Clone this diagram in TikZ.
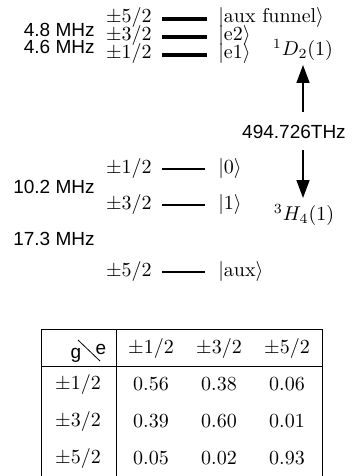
\documentclass[tikz,border=0pt]{standalone}
\usepackage{amsmath}
\usepackage{fontspec}
\newfontfamily\hv{Liberation Sans}
\usetikzlibrary{arrows.meta}
\begin{document}
\begin{tikzpicture}[x=0.5pt,y=-0.5pt,
  lvl/.style={line width=1.6pt},
  lvlb/.style={line width=1.3pt},
  mz/.style={font=\hv\fontsize{9.5}{11}\selectfont, inner sep=0pt, anchor=east},
  spin/.style={inner sep=0pt, anchor=base east},
  ket/.style={inner sep=0pt, anchor=base west},
  tarr/.style={line width=0.8pt, -{Triangle[length=9pt,width=6.5pt]}},
  tline/.style={line width=0.5pt},
  cell/.style={inner sep=0pt}]
\useasboundingbox (0,0) rectangle (356,476);
% excited state levels
\coordinate (e5a) at (162,19);   \coordinate (e5b) at (207,19);
\coordinate (e3a) at (162,37); \coordinate (e3b) at (207,37);
\coordinate (e1a) at (162,55);   \coordinate (e1b) at (207,55);
\draw[lvl] (e5a) -- (e5b);
\draw[lvl] (e3a) -- (e3b);
\draw[lvl] (e1a) -- (e1b);
\node[spin] (se5) at (152,23) {$\pm5/2$};
\node[spin] (se3) at (152,41) {$\pm3/2$};
\node[spin] (se1) at (152,59) {$\pm1/2$};
\node[ket] (ke5) at (218,23) {$|\text{aux funnel}\rangle$};
\node[ket] (ke3) at (218,41) {$|\mathrm{e2}\rangle$};
\node[ket] (ke1) at (218,59) {$|\mathrm{e1}\rangle$};
\node[mz] (m48) at (95,30) {4.8 MHz};
\node[mz] (m46) at (95,46.5) {4.6 MHz};
\node[cell] (D2) at (303,50) {${}^1D_2(1)$};
% transition
\node[font=\hv\fontsize{9.5}{11}\selectfont, inner sep=0pt] (thz) at (294,132) {494.726THz};
\coordinate (upa) at (303,112); \coordinate (upb) at (303,65);
\coordinate (dna) at (303,150); \coordinate (dnb) at (303,198);
\draw[tarr] (upa) -- (upb);
\draw[tarr] (dna) -- (dnb);
\node[cell] (H4) at (304,215) {${}^3H_4(1)$};
% ground state levels
\coordinate (g1a) at (162,169); \coordinate (g1b) at (205,169);
\coordinate (g3a) at (162,205); \coordinate (g3b) at (205,205);
\coordinate (g5a) at (162,272); \coordinate (g5b) at (205,272);
\draw[lvlb] (g1a) -- (g1b);
\draw[lvlb] (g3a) -- (g3b);
\draw[lvlb] (g5a) -- (g5b);
\node[spin] (sg1) at (152,173) {$\pm1/2$};
\node[spin] (sg3) at (152,209) {$\pm3/2$};
\node[spin] (sg5) at (152,276) {$\pm5/2$};
\node[ket] (kg1) at (218,173) {$|0\rangle$};
\node[ket] (kg3) at (218,209) {$|1\rangle$};
\node[ket] (kg5) at (218,276) {$|\mathrm{aux}\rangle$};
\node[mz] (m102) at (95,187) {10.2 MHz};
\node[mz] (m173) at (95,239) {17.3 MHz};
% table
\coordinate (tl) at (41,329);  \coordinate (tr) at (322,329);
\coordinate (hl) at (41,366);  \coordinate (hr) at (322,366);
\coordinate (vm) at (116,329);
\coordinate (bl) at (41,478);  \coordinate (bm) at (116,478); \coordinate (br) at (322,478);
\draw[tline] (tl) -- (tr);
\draw[tline] (hl) -- (hr);
\draw[tline] (tl) -- (bl);
\draw[tline] (vm) -- (bm);
\draw[tline] (tr) -- (br);
\coordinate (d1) at (78,340); \coordinate (d2) at (100,361);
\draw[line width=0.4pt] (d1) -- (d2);
\node[cell, font=\hv\fontsize{9.5}{11}\selectfont, anchor=base] (hg) at (76,358) {g};
\node[cell, font=\hv\fontsize{9.5}{11}\selectfont, anchor=base] (he) at (101,354) {e};
\node[cell] (c01) at (151,348) {$\pm1/2$};
\node[cell] (c02) at (219,348) {$\pm3/2$};
\node[cell] (c03) at (287,348) {$\pm5/2$};
\node[cell] (r1) at (78,384.5) {$\pm1/2$};
\node[cell] (r2) at (78,421.5) {$\pm3/2$};
\node[cell] (r3) at (78,458.5) {$\pm5/2$};
\node[cell] (c11) at (151,384.5) {0.56};
\node[cell] (c12) at (219,384.5) {0.38};
\node[cell] (c13) at (287,384.5) {0.06};
\node[cell] (c21) at (151,421.5) {0.39};
\node[cell] (c22) at (219,421.5) {0.60};
\node[cell] (c23) at (287,421.5) {0.01};
\node[cell] (c31) at (151,458.5) {0.05};
\node[cell] (c32) at (219,458.5) {0.02};
\node[cell] (c33) at (287,458.5) {0.93};
\end{tikzpicture}
\end{document}
